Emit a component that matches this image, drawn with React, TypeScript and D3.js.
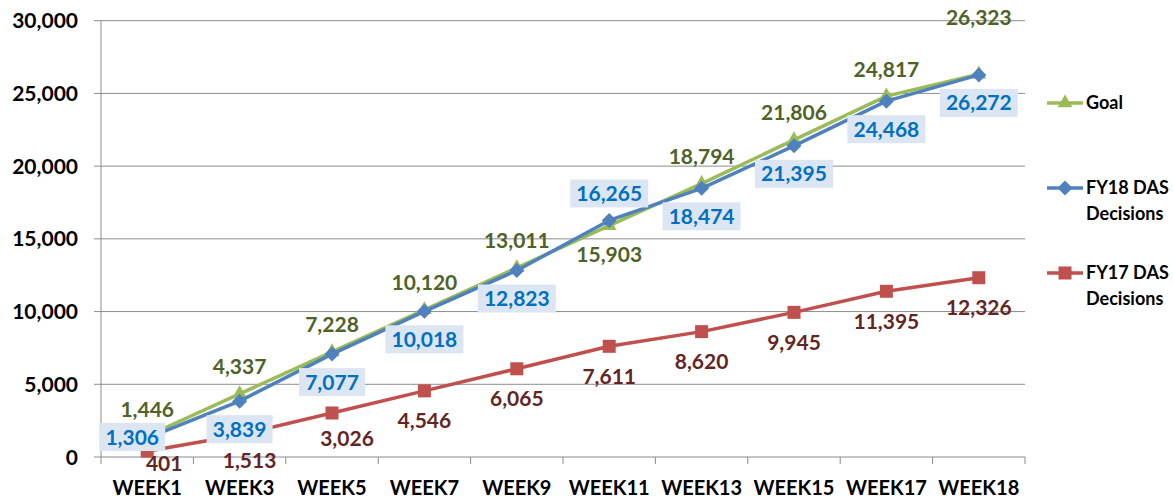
import React from "react";
import * as d3 from "d3";

const weeks = ["WEEK1", "WEEK3", "WEEK5", "WEEK7", "WEEK9", "WEEK11", "WEEK13", "WEEK15", "WEEK17", "WEEK18"];
const goal = [1446, 4337, 7228, 10120, 13011, 15903, 18794, 21806, 24817, 26323];
const fy18 = [1306, 3839, 7077, 10018, 12823, 16265, 18474, 21395, 24468, 26272];
const fy17 = [401, 1513, 3026, 4546, 6065, 7611, 8620, 9945, 11395, 12326];
const yTicks = [0, 5000, 10000, 15000, 20000, 25000, 30000];

// label placement, kept apart from the values
const goalPos = ["above", "above", "above", "above", "above", "below", "above", "above", "above", "high"];
const fy18Pos = ["belowLeft", "below", "below", "below", "below", "above", "below", "below", "below", "below"];

const W = 1174;
const H = 500;
const left = 101;
const right = 1025;
const top = 20.7;
const bottom = 457;
const font = "Lato, 'Open Sans', sans-serif";

const GREEN = "#9BBB59";
const BLUE = "#4F81BD";
const RED = "#C0504D";

export default function App() {
  const x = d3.scaleBand<string>().domain(weeks).range([left, right]).padding(0);
  const y = d3.scaleLinear().domain([0, 30000]).range([bottom, top]);
  const cx = (i: number) => (x(weeks[i]) as number) + x.bandwidth() / 2;
  const fmt = d3.format(",");

  const line = (vals: number[]) =>
    d3.line<number>().x((_, i) => cx(i)).y((d) => y(d))(vals) as string;

  const tri = d3.symbol().type(d3.symbolTriangle).size(95)() as string;
  const dia = "M0,-7.5L7.5,0L0,7.5L-7.5,0Z";

  const goalDy = (p: string) => (p === "above" ? -27 : p === "below" ? 29 : -57);
  const fy17Off = (i: number) => (i === 0 ? [17, 12] : i === 1 ? [10, 25] : i === 2 ? [15, 25] : [0, 30]);

  const boundaries = weeks.map((w) => x(w) as number).concat([right]);

  const legend = [
    { y: 103, color: GREEN, kind: "tri", lines: ["Goal"] },
    { y: 188, color: BLUE, kind: "dia", lines: ["FY18 DAS", "Decisions"] },
    { y: 273, color: RED, kind: "sq", lines: ["FY17 DAS", "Decisions"] },
  ];

  return (
    <div style={{ position: "absolute", left: 0, top: 0 }}>
      <svg width={W} height={H} style={{ display: "block", background: "#fff" }}>
        {/* gridlines */}
        {yTicks.map((t) => (
          <g key={t}>
            <line x1={94} x2={right} y1={y(t)} y2={y(t)} stroke="#8c8c8c" strokeWidth={1} />
            <text
              x={78}
              y={y(t)}
              dy="0.36em"
              textAnchor="end"
              fontFamily={font}
              fontWeight="bold"
              fontSize={21}
              fill="#000"
            >
              {fmt(t)}
            </text>
          </g>
        ))}
        <line x1={left} x2={left} y1={top} y2={bottom} stroke="#8c8c8c" strokeWidth={1} />
        {boundaries.map((b, i) => (
          <line key={i} x1={b} x2={b} y1={bottom} y2={bottom + 7} stroke="#8c8c8c" strokeWidth={1} />
        ))}
        {weeks.map((w, i) => (
          <text
            key={w}
            x={cx(i)}
            y={495}
            textAnchor="middle"
            fontFamily={font}
            fontWeight="bold"
            fontSize={20}
            fill="#000"
          >
            {w}
          </text>
        ))}

        {/* series */}
        <path d={line(goal)} fill="none" stroke={GREEN} strokeWidth={3.5} strokeLinejoin="round" />
        {goal.map((v, i) => (
          <path key={i} d={tri} transform={`translate(${cx(i)},${y(v)})`} fill={GREEN} />
        ))}
        <path d={line(fy18)} fill="none" stroke={BLUE} strokeWidth={3.5} strokeLinejoin="round" />
        {fy18.map((v, i) => (
          <path key={i} d={dia} transform={`translate(${cx(i)},${y(v)})`} fill={BLUE} />
        ))}
        <path d={line(fy17)} fill="none" stroke={RED} strokeWidth={3.5} strokeLinejoin="round" />
        {fy17.map((v, i) => (
          <rect key={i} x={cx(i) - 6.5} y={y(v) - 6.5} width={13} height={13} fill={RED} />
        ))}

        {/* labels */}
        {goal.map((v, i) => (
          <text
            key={i}
            x={cx(i)}
            y={y(v) + goalDy(goalPos[i])}
            dy="0.36em"
            textAnchor="middle"
            fontFamily={font}
            fontWeight="bold"
            fontSize={21}
            fill="#4F6228"
          >
            {fmt(v)}
          </text>
        ))}
        {fy17.map((v, i) => {
          const [dx, dy] = fy17Off(i);
          return (
            <text
              key={i}
              x={cx(i) + dx}
              y={y(v) + dy}
              dy="0.36em"
              textAnchor="middle"
              fontFamily={font}
              fontWeight="bold"
              fontSize={21}
              fill="#632523"
            >
              {fmt(v)}
            </text>
          );
        })}
        {fy18.map((v, i) => {
          const p = fy18Pos[i];
          const lx = cx(i) + (p === "belowLeft" ? -15 : 0);
          const ly = y(v) + (p === "above" ? -27 : p === "belowLeft" ? -1 : 28);
          const label = fmt(v);
          const bw = label.length === 5 ? 66 : 78;
          return (
            <g key={i}>
              <rect x={lx - bw / 2} y={ly - 14} width={bw} height={28} fill="#DCE6F2" />
              <text
                x={lx}
                y={ly}
                dy="0.36em"
                textAnchor="middle"
                fontFamily={font}
                fontWeight="bold"
                fontSize={21}
                fill="#0070C0"
              >
                {label}
              </text>
            </g>
          );
        })}

        {/* legend */}
        {legend.map((l) => (
          <g key={l.kind}>
            <line x1={1047} x2={1083} y1={l.y} y2={l.y} stroke={l.color} strokeWidth={3.5} />
            {l.kind === "tri" && <path d={tri} transform={`translate(1065,${l.y})`} fill={l.color} />}
            {l.kind === "dia" && <path d={dia} transform={`translate(1065,${l.y})`} fill={l.color} />}
            {l.kind === "sq" && <rect x={1058.5} y={l.y - 6.5} width={13} height={13} fill={l.color} />}
            {l.lines.map((t, j) => (
              <text
                key={j}
                x={1086}
                y={l.y + 6 + j * 26}
                fontFamily={font}
                fontWeight="bold"
                fontSize={18}
                fill="#000"
              >
                {t}
              </text>
            ))}
          </g>
        ))}
      </svg>
    </div>
  );
}
